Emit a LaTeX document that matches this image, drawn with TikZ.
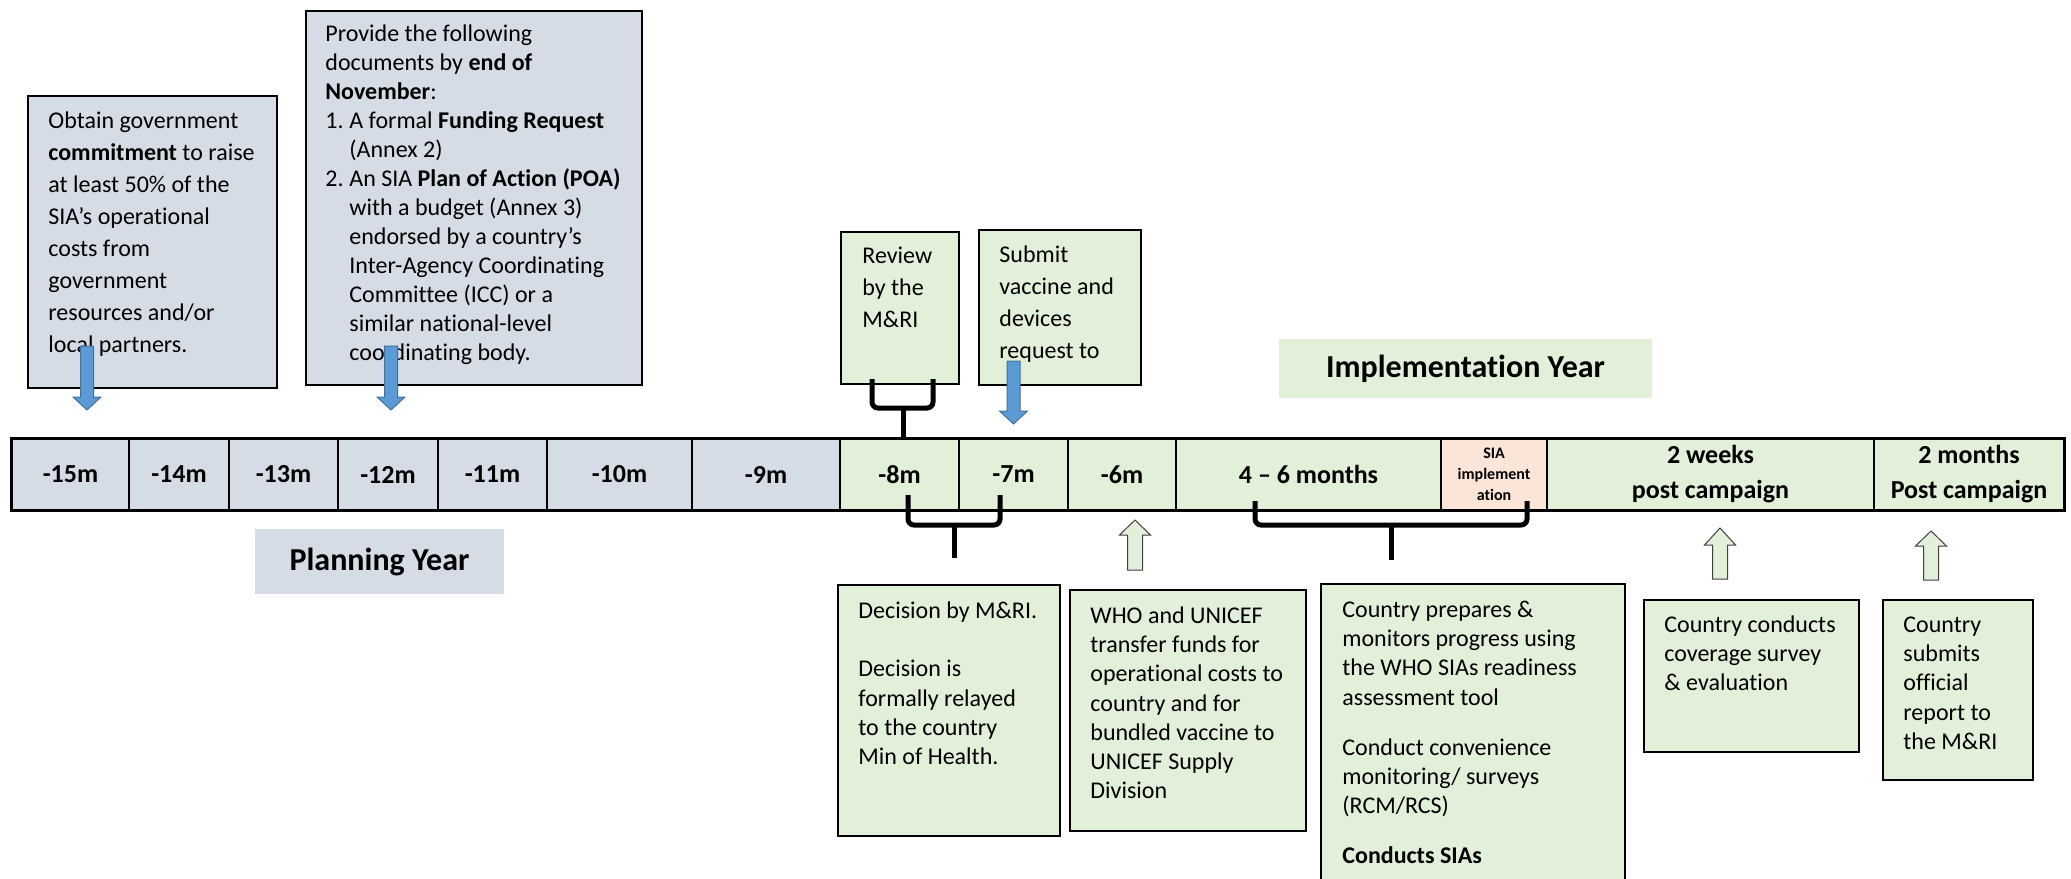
\documentclass[tikz,border=0pt]{standalone}
\usepackage{fontspec}
\setmainfont{Carlito}[Ligatures=NoCommon]
\definecolor{grayc}{HTML}{D6DCE5}
\definecolor{greenc}{HTML}{E2F0D9}
\definecolor{pinkc}{HTML}{FBE5D6}
\definecolor{bluec}{HTML}{5B9BD5}
\definecolor{bluedk}{HTML}{41719C}
\newcommand{\blkarrow}[7]{\draw[#7] (#1-#5,#2) -- (#1+#5,#2) -- (#1+#5,#3) -- (#1+#6,#3) -- (#1,#4) -- (#1-#6,#3) -- (#1-#5,#3) -- cycle;}
\tikzset{
 box/.style={draw=black, line width=0.8pt, inner sep=0pt, anchor=north west},
 graybox/.style={box, fill=grayc},
 greenbox/.style={box, fill=greenc},
 txt/.style={inner sep=0pt, anchor=north west, align=left},
 body/.style={txt, font=\fontsize{12}{14.6}\selectfont},
 cell/.style={draw=black, line width=0.7pt, inner sep=0pt, minimum height=35.5pt, font=\bfseries\fontsize{13}{17.5}\selectfont, align=center},
 brace/.style={line width=2.5pt, rounded corners=3pt},
 bluearr/.style={fill=bluec, draw=bluedk, line width=0.5pt},
 greenarr/.style={fill=greenc, draw=black!75, line width=0.5pt},
 yearlbl/.style={inner sep=0pt, font=\bfseries\fontsize{16}{19}\selectfont},
}
\begin{document}
\begin{tikzpicture}[x=0.5pt,y=-0.5pt]
\useasboundingbox (0,0) rectangle (2071,878);
\clip (0,0) rectangle (2071,878);

% ---- top boxes ----
\node[graybox, minimum width=124.5pt, minimum height=146pt] (b1) at (27,95) {};
\node[body, font=\fontsize{12}{16}\selectfont] (t1) at (48,106) {\strut Obtain government\\
\textbf{commitment} to raise\\ at least 50\% of the\\ SIA’s operational\\ costs from\\ government\\ resources and/or\\ local partners.};

\node[graybox, minimum width=168pt, minimum height=187pt] (b2) at (305,10) {};
\node[body, font=\fontsize{12}{14.5}\selectfont] (t2) at (325,20.7) {\strut Provide the following\\
documents by \textbf{end of}\\ \textbf{November}:\\
\makebox[12pt][l]{1.}A formal \textbf{Funding Request}\\
\hspace*{12pt}(Annex 2)\\
\makebox[12pt][l]{2.}An SIA \textbf{Plan of Action (POA)}\\
\hspace*{12pt}with a budget (Annex 3)\\
\hspace*{12pt}endorsed by a country’s\\
\hspace*{12pt}Inter-Agency Coordinating\\
\hspace*{12pt}Committee (ICC) or a\\
\hspace*{12pt}similar national-level\\
\hspace*{12pt}coordinating body.};

\node[greenbox, minimum width=59pt, minimum height=76pt] (review) at (840,231) {};
\node[body, font=\fontsize{12}{16}\selectfont] (treview) at (862,240.6) {\strut Review\\ by the\\ M\&RI};

\node[greenbox, minimum width=81pt, minimum height=77.5pt] (submit) at (978,229) {};
\node[body, font=\fontsize{12}{16}\selectfont] (tsubmit) at (999,239.6) {\strut Submit\\ vaccine and\\ devices\\ request to};

\node[fill=greenc, minimum width=186.5pt, minimum height=29.5pt, yearlbl] (impl) at (1465.5,368.5) {Implementation Year};

% ---- timeline bar ----
\node[cell, fill=grayc, minimum width=58.5pt] (c15) at (70.5,474.5) {-15m};
\node[cell, fill=grayc, minimum width=50pt] (c14) at (179,474.5) {-14m};
\node[cell, fill=grayc, minimum width=54.5pt] (c13) at (283.5,474.5) {-13m};
\node[cell, fill=grayc, minimum width=50pt] (c12) at (388,474.5) {-12m};
\node[cell, fill=grayc, minimum width=54.5pt] (c11) at (492.5,474.5) {-11m};
\node[cell, fill=grayc, minimum width=72.5pt] (c10) at (619.5,474.5) {-10m};
\node[cell, fill=grayc, minimum width=74pt] (c9) at (766,474.5) {-9m};
\node[cell, fill=greenc, minimum width=59.5pt] (c8) at (899.5,474.5) {-8m};
\node[cell, fill=greenc, minimum width=54.5pt] (c7) at (1013.5,474.5) {-7m};
\node[cell, fill=greenc, minimum width=54pt] (c6) at (1122,474.5) {-6m};
\node[cell, fill=greenc, minimum width=132.5pt] (c46) at (1308.5,474.5) {4 – 6 months};
\node[cell, fill=pinkc, minimum width=53pt, font=\bfseries\fontsize{8}{10.5}\selectfont] (csia) at (1494,474.5) {SIA\\ implement\\ ation};
\node[cell, fill=greenc, minimum width=163.5pt] (c2w) at (1710.5,474.5) {2 weeks\\ post campaign};
\node[cell, fill=greenc, minimum width=95pt] (c2m) at (1969,474.5) {2 months\\ Post campaign};
\draw[line width=1.1pt] (c15.north west) rectangle (c2m.south east);

\node[fill=grayc, minimum width=124.5pt, minimum height=32.5pt, yearlbl] (plan) at (379.5,561.5) {Planning Year};

% ---- bottom boxes ----
\node[greenbox, minimum width=111pt, minimum height=125.5pt] (decision) at (837,584) {};
\node[body] (tdecision) at (858,597.6) {\strut Decision by M\&RI.\\[14.6pt] Decision is\\ formally relayed\\ to the country\\ Min of Health.};

\node[greenbox, minimum width=118pt, minimum height=120.5pt] (who) at (1069,589) {};
\node[body] (twho) at (1090,602.6) {\strut WHO and UNICEF\\ transfer funds for\\ operational costs to\\ country and for\\ bundled vaccine to\\ UNICEF Supply\\ Division};

\node[greenbox, minimum width=152pt, minimum height=160pt] (prep) at (1320,583) {};
\node[body] (tprep) at (1342,596.6) {\strut Country prepares \&\\ monitors progress using\\ the WHO SIAs readiness\\ assessment tool\\[10.5pt] Conduct convenience\\ monitoring/ surveys\\ (RCM/RCS)\\[10.5pt] \textbf{Conducts SIAs}};

\node[greenbox, minimum width=107.5pt, minimum height=76pt] (cond) at (1643,599) {};
\node[body] (tcond) at (1664,611.6) {\strut Country conducts\\ coverage survey\\ \& evaluation};

\node[greenbox, minimum width=75pt, minimum height=90pt] (subm) at (1882,599) {};
\node[body] (tsubm) at (1903,611.6) {\strut Country\\ submits\\ official\\ report to\\ the M\&RI};

% ---- braces ----
\coordinate (ub) at (903,408);
\draw[brace] (872,379) -- (872,408) -- (933,408) -- (933,379);
\draw[brace] (ub) -- (ub |- c8.north);
\draw[brace] (908,495) -- (908,525) -- (1000,525) -- (1000,495);
\coordinate (lb1) at (954,525);
\coordinate (lb1end) at (954,558);
\draw[brace] (lb1) -- (lb1end);
\draw[brace] (1255,501) -- (1255,525) -- (1527,525) -- (1527,501);
\coordinate (lb2) at (1391,525);
\coordinate (lb2end) at (1391,560);
\draw[brace] (lb2) -- (lb2end);

% ---- block arrows ----
\blkarrow{87}{346}{397}{410}{6.5}{14}{bluearr}
\blkarrow{391}{346}{397}{410}{6.5}{14}{bluearr}
\blkarrow{1013.5}{361}{411}{424}{6.5}{14}{bluearr}
\blkarrow{1135}{570}{535}{520}{7.5}{15.5}{greenarr}
\blkarrow{1720}{579}{545}{528}{7.5}{15.5}{greenarr}
\blkarrow{1931}{580}{546}{531}{7.5}{15.5}{greenarr}
\end{tikzpicture}
\end{document}
